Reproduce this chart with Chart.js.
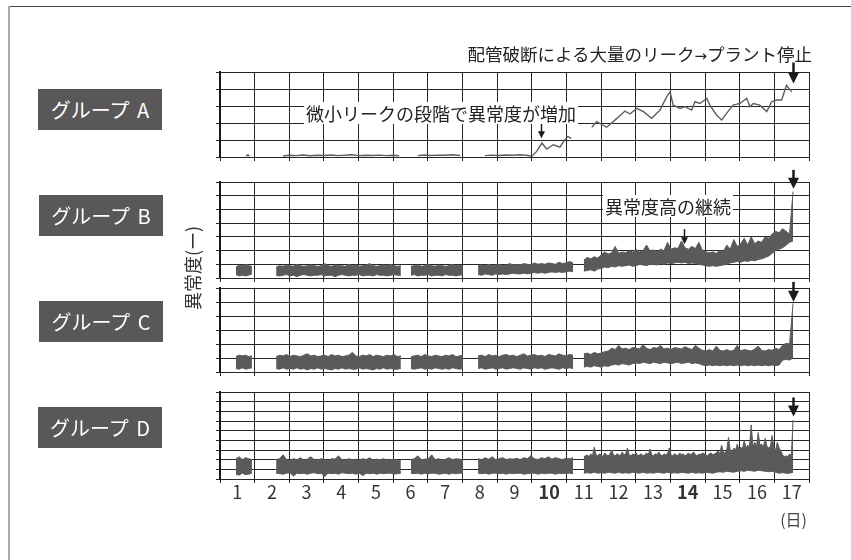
<!DOCTYPE html>
<html lang="ja">
<head>
<meta charset="utf-8">
<script src="https://cdn.jsdelivr.net/npm/chart.js@4.4.1/dist/chart.umd.min.js"></script>
<style>
  html, body { margin: 0; padding: 0; background: #fff; }
  #wrap { position: relative; width: 851px; height: 560px; overflow: hidden;
          font-family: "Noto Sans CJK JP", "Noto Sans", sans-serif; color: #222; }
  canvas { position: absolute; left: 0; }
  .frame-top { position: absolute; left: 8px; top: 6px; width: 843px; height: 1px; background: #444; }
  .frame-left { position: absolute; left: 8px; top: 6px; width: 2px; height: 554px; background: #aaa; }
  .group { position: absolute; width: 124px; height: 41px; background: #595757; color: #fff;
           font-size: 20px; line-height: 41px; text-align: center; white-space: nowrap; word-spacing: 3px; z-index: 3; }
  .note { position: absolute; font-size: 18px; line-height: 22px; white-space: nowrap; z-index: 3; color: #222; }
  .note.headline { font-size: 17.5px; }
  .note .arrow { font-family: "DejaVu Sans", sans-serif; font-size: 15px; }
  .boxed { background: #fff; padding: 0 2px; }
  .ytitle { position: absolute; left: 192px; top: 268px; font-size: 18px; line-height: 20px; color: #333;
            white-space: nowrap; transform: translate(-50%, -50%) rotate(-90deg); z-index: 3; }
  .unit { position: absolute; right: 44px; top: 508px; font-size: 16px; line-height: 22px; color: #444; z-index: 3; }
</style>
</head>
<body>
<div id="wrap">
  <div class="frame-top"></div>
  <div class="frame-left"></div>

  <canvas id="panelA" width="851" height="111" style="top:52px"></canvas>
  <canvas id="panelB" width="851" height="122" style="top:162px"></canvas>
  <canvas id="panelC" width="851" height="110" style="top:268px"></canvas>
  <canvas id="panelD" width="851" height="137" style="top:372px"></canvas>

  <div class="group" style="left:38px;top:89px">グループ A</div>
  <div class="group" style="left:39px;top:195px">グループ B</div>
  <div class="group" style="left:39px;top:301px">グループ C</div>
  <div class="group" style="left:38px;top:407px">グループ D</div>

  <div class="ytitle">異常度(ー)</div>

  <div class="note headline" style="right:39px;top:43px">配管破断による大量のリーク<span class="arrow">→</span>プラント停止</div>
  <div class="note boxed" style="left:304px;top:102px">微小リークの段階で異常度が増加</div>
  <div class="note boxed" style="left:603px;top:195px">異常度高の継続</div>

  <div class="unit">(日)</div>
</div>

<script>
// Day labels along the bottom axis (each day occupies one grid cell)
const dayLabels = ['1','2','3','4','5','6','7','8','9','10','11','12','13','14','15','16','17'];
const boldDays = ['10', '14'];

// Measurement periods (in days from the start of day 1)
const segStart = [0.46, 1.62, 5.51, 7.45, 10.50];
const segEnd   = [0.92, 5.22, 7.01, 10.19, 16.54];

// Group A: single anomaly trace (null = no measurement)
const groupADays = [
  0.75, 0.8, 0.85, 1.3,
  1.82, 2.0, 2.2, 2.4, 2.6, 2.8, 3.0, 3.2, 3.4, 3.6, 3.8, 4.0, 4.2, 4.4, 4.6, 4.8, 5.0, 5.17, 5.4,
  5.71, 5.9, 6.1, 6.3, 6.5, 6.7, 6.93, 7.3,
  7.65, 7.85, 8.05, 8.25, 8.45, 8.65, 8.85, 9.0, 9.14, 9.29, 9.43, 9.62, 9.81, 9.95, 10.04, 10.14, 10.45,
  10.73, 10.87, 11.16, 11.35, 11.69, 11.83, 12.03, 12.22, 12.46, 12.7, 12.89, 12.99, 13.08, 13.28, 13.42,
  13.61, 13.71, 13.85, 14.05, 14.14, 14.33, 14.48, 14.62, 14.81, 15.01, 15.2, 15.3, 15.39, 15.58, 15.78,
  15.92, 16.07, 16.21, 16.35, 16.5
];
const groupAValues = [
  0.05, 0.12, 0.05, null,
  0.06, 0.1, 0.08, 0.12, 0.07, 0.1, 0.09, 0.12, 0.08, 0.1, 0.13, 0.08, 0.1, 0.09, 0.11, 0.08, 0.1, 0.07, null,
  0.08, 0.12, 0.09, 0.11, 0.1, 0.13, 0.09, null,
  0.08, 0.11, 0.09, 0.12, 0.1, 0.13, 0.1, 0.05, 0.33, 0.82, 0.47, 0.72, 0.58, 1.01, 1.2, 1.09, null,
  1.75, 2.08, 1.75, 2.08, 2.7, 2.53, 2.86, 2.67, 2.28, 2.76, 3.54, 3.83, 3.05, 2.86, 2.96,
  2.76, 3.25, 3.15, 3.45, 3.05, 2.47, 2.18, 2.57, 3.05, 3.15, 3.45, 2.96, 3.15, 3.05, 2.67,
  3.25, 3.35, 3.35, 4.22, 3.83
];

// Groups B-D: upper / lower edge of the anomaly band, one list per measurement period
const groupBHigh = [
  [0.8, 0.95, 0.9, 1.0, 0.9, 0.85],
  [0.8, 0.9, 0.85, 0.95, 0.9, 0.85, 1.0, 0.9, 0.85, 0.9, 0.95, 0.9, 0.85, 0.9, 1.05, 0.9, 0.85, 0.95, 0.9,
   0.9, 0.85, 1.0, 0.9, 0.95, 0.85, 0.9, 0.95, 1.05, 0.9, 0.85, 0.9, 0.95, 0.9, 1.0, 0.9, 0.85, 0.9],
  [0.85, 0.9, 0.95, 0.85, 0.9, 1.0, 0.9, 0.85, 0.95, 0.9, 0.85, 0.9, 1.0, 0.9, 0.95, 0.85],
  [0.9, 0.95, 0.9, 1.0, 0.9, 0.95, 1.0, 0.9, 0.95, 1.05, 0.95, 1.0, 0.95, 1.05, 1.0, 0.95, 1.1, 1.0, 1.05,
   1.0, 1.1, 1.05, 1.0, 1.15, 1.05, 1.1, 1.2, 1.1],
  [1.3, 1.5, 1.4, 1.55, 1.45, 1.7, 1.9, 1.75, 1.85, 2.3, 1.8, 1.9, 1.85, 2.0, 1.9, 2.1, 1.9, 2.0, 2.4, 1.95,
   2.05, 1.9, 2.1, 2.0, 2.6, 2.1, 2.2, 2.15, 2.7, 2.2, 2.1, 2.3, 2.15, 2.6, 2.0, 1.9, 1.85, 1.9, 1.8, 2.0,
   1.9, 2.4, 2.1, 2.8, 2.3, 2.5, 2.9, 2.4, 3.0, 2.5, 2.7, 2.6, 3.0, 2.9, 3.2, 3.4, 3.3, 3.6, 3.4, 3.2, 6.3]
];
const groupBLow = [
  [0.25, 0.15, 0.2, 0.15, 0.2, 0.3],
  [0.2, 0.15, 0.2, 0.25, 0.15, 0.2, 0.1, 0.2, 0.25, 0.2, 0.15, 0.2, 0.2, 0.25, 0.15, 0.2, 0.2, 0.1, 0.2,
   0.25, 0.2, 0.15, 0.2, 0.2, 0.25, 0.15, 0.2, 0.2, 0.15, 0.25, 0.2, 0.2, 0.15, 0.2, 0.25, 0.2, 0.2],
  [0.2, 0.25, 0.15, 0.2, 0.2, 0.25, 0.15, 0.2, 0.2, 0.15, 0.25, 0.2, 0.2, 0.15, 0.2, 0.25],
  [0.25, 0.2, 0.3, 0.25, 0.2, 0.3, 0.25, 0.3, 0.25, 0.3, 0.35, 0.3, 0.3, 0.35, 0.3, 0.35, 0.4, 0.35, 0.4,
   0.35, 0.4, 0.45, 0.4, 0.45, 0.4, 0.45, 0.5, 0.45],
  [0.5, 0.55, 0.6, 0.5, 0.65, 0.7, 0.8, 0.75, 0.85, 0.8, 0.9, 0.85, 0.9, 0.95, 0.85, 0.9, 1.0, 0.95, 0.9, 1.0,
   1.0, 0.95, 1.05, 1.0, 1.1, 1.05, 1.1, 1.15, 1.1, 1.15, 1.05, 1.1, 1.05, 1.0, 0.95, 0.9, 0.85, 0.9, 0.85, 0.9,
   0.95, 1.0, 1.1, 1.15, 1.2, 1.15, 1.25, 1.2, 1.3, 1.25, 1.35, 1.4, 1.5, 1.6, 1.8, 2.0, 2.1, 2.2, 2.4, 2.6, 2.7]
];

const groupCHigh = [
  [1.1, 1.2, 1.15, 1.2, 1.1, 1.15],
  [1.1, 1.2, 1.15, 1.25, 1.1, 1.2, 1.15, 1.1, 1.2, 1.3, 1.15, 1.2, 1.1, 1.15, 1.2, 1.1, 1.25, 1.15, 1.2,
   1.1, 1.15, 1.2, 1.4, 1.15, 1.1, 1.2, 1.15, 1.25, 1.1, 1.2, 1.15, 1.1, 1.2, 1.15, 1.25, 1.1, 1.15],
  [1.1, 1.15, 1.2, 1.1, 1.25, 1.15, 1.1, 1.2, 1.15, 1.1, 1.2, 1.15, 1.25, 1.1, 1.15, 1.2],
  [1.15, 1.2, 1.1, 1.25, 1.15, 1.2, 1.1, 1.2, 1.25, 1.15, 1.2, 1.1, 1.2, 1.3, 1.15, 1.2, 1.25, 1.15, 1.2,
   1.1, 1.25, 1.2, 1.15, 1.3, 1.2, 1.15, 1.25, 1.2],
  [1.3, 1.35, 1.25, 1.4, 1.3, 1.35, 1.45, 1.5,
   1.7, 1.6, 1.9, 1.65, 1.7, 1.6, 1.75,
   1.7, 1.65, 1.95, 1.7, 1.6, 1.75, 1.7, 1.9, 1.65, 1.7, 1.6, 1.75, 1.7, 1.65, 1.8, 1.7, 1.6, 1.9, 1.7,
   1.55, 1.5, 1.6, 1.5, 1.85, 1.55, 1.5, 1.6, 1.5, 1.55, 1.9, 1.5, 1.6, 1.55, 1.5, 1.65, 1.85, 1.55, 1.5,
   1.6, 1.55, 1.7, 1.6,
   1.9, 2.05, 2.0, 4.9]
];
const groupCLow = [
  [0.25, 0.2, 0.3, 0.2, 0.25, 0.3],
  [0.25, 0.2, 0.3, 0.2, 0.25, 0.2, 0.3, 0.2, 0.25, 0.15, 0.25, 0.2, 0.3, 0.2, 0.25, 0.2, 0.15, 0.25, 0.2,
   0.3, 0.2, 0.25, 0.2, 0.2, 0.3, 0.2, 0.25, 0.2, 0.15, 0.25, 0.2, 0.3, 0.2, 0.25, 0.2, 0.2, 0.25],
  [0.25, 0.2, 0.25, 0.3, 0.2, 0.25, 0.2, 0.3, 0.25, 0.2, 0.25, 0.2, 0.3, 0.25, 0.2, 0.25],
  [0.25, 0.3, 0.2, 0.25, 0.3, 0.2, 0.25, 0.3, 0.2, 0.25, 0.3, 0.25, 0.2, 0.3, 0.25, 0.2, 0.3, 0.25, 0.3,
   0.2, 0.25, 0.3, 0.25, 0.2, 0.3, 0.25, 0.3, 0.25],
  [0.35, 0.4, 0.35, 0.45, 0.4, 0.35, 0.45, 0.4,
   0.5, 0.55, 0.5, 0.6, 0.55, 0.5, 0.6,
   0.65, 0.6, 0.7, 0.65, 0.6, 0.7, 0.65, 0.6, 0.7, 0.65, 0.6, 0.65, 0.7, 0.6, 0.65, 0.7, 0.6, 0.65, 0.6,
   0.5, 0.45, 0.5, 0.45, 0.5, 0.45, 0.5, 0.45, 0.5, 0.45, 0.5, 0.45, 0.5, 0.45, 0.5, 0.45, 0.5, 0.45, 0.5,
   0.45, 0.5, 0.45, 0.5,
   0.85, 0.9, 0.85, 1.0]
];

const groupDHigh = [
  [2.1, 2.3, 2.0, 2.2, 2.1, 2.0],
  [2.0, 2.1, 2.5, 2.0, 1.9, 2.1, 2.0, 2.2, 1.95, 2.05, 2.3, 2.0, 1.95, 2.1, 2.0, 1.9, 2.1, 2.05, 2.4,
   2.0, 1.95, 2.1, 2.0, 2.05, 1.9, 2.1, 2.0, 2.2, 1.95, 2.05, 2.0, 2.1, 1.95, 2.0, 2.05, 1.9, 2.0],
  [2.0, 2.1, 2.4, 2.0, 2.05, 2.1, 2.5, 2.0, 2.1, 1.95, 2.05, 2.2, 2.0, 2.1, 2.05, 2.0],
  [2.1, 2.0, 2.2, 2.05, 2.3, 2.0, 2.1, 2.2, 2.0, 2.1, 2.05, 2.15, 2.0, 2.2, 2.1, 2.4, 2.1, 2.0, 2.2,
   2.1, 2.3, 2.05, 2.2, 2.1, 2.0, 2.15, 2.1, 2.2],
  [2.3, 2.4, 2.5, 2.3, 2.6, 2.4, 3.3, 2.5, 2.4, 2.6, 2.5, 2.3, 2.7, 2.5, 2.4, 2.6, 3.0, 2.5, 2.4, 2.6,
   2.5, 2.4, 2.8, 2.5, 2.6, 3.2, 2.5, 2.4, 2.6, 2.5, 2.7, 2.4, 2.5, 2.6, 2.4, 2.5, 2.7, 2.5, 3.1, 2.5,
   2.4, 2.6, 2.5, 2.8, 2.5, 2.4, 2.6, 2.5, 2.6, 3.2, 2.5, 2.4, 2.6, 2.5, 2.4, 2.7, 2.5, 2.6, 2.4, 2.5,
   2.7, 2.5, 2.6, 2.8, 2.5, 2.4, 2.6, 2.5, 2.7, 2.6, 2.5, 2.4, 2.6, 2.7, 2.5, 2.6,
   2.7, 2.9, 2.6, 3.5, 2.8, 2.7, 3.0, 4.3, 2.9, 2.8, 3.2, 3.0, 3.6, 3.0,
   3.3, 3.1, 4.0, 3.2, 3.5, 3.3, 5.6, 3.4, 3.8, 3.3, 4.8, 3.5, 3.6, 3.3, 4.2, 3.4,
   3.2, 3.4, 4.5, 3.3, 3.0, 3.8, 3.2, 2.9,
   2.5, 2.3, 2.4, 2.3, 2.6, 2.4,
   6.1]
];
const groupDLow = [
  [0.5, 0.4, 0.6, 0.45, 0.5, 0.6],
  [0.6, 0.55, 0.5, 0.6, 0.65, 0.3, 0.6, 0.55, 0.6, 0.5, 0.6, 0.65, 0.55, 0.6, 0.25, 0.6, 0.55, 0.6, 0.5,
   0.65, 0.6, 0.55, 0.6, 0.5, 0.6, 0.35, 0.6, 0.55, 0.6, 0.5, 0.6, 0.55, 0.6, 0.6, 0.5, 0.55, 0.6],
  [0.6, 0.55, 0.6, 0.5, 0.6, 0.55, 0.6, 0.6, 0.5, 0.55, 0.6, 0.5, 0.6, 0.55, 0.6, 0.6],
  [0.6, 0.55, 0.6, 0.5, 0.6, 0.6, 0.55, 0.6, 0.5, 0.6, 0.55, 0.6, 0.6, 0.5, 0.55, 0.6, 0.6, 0.5, 0.6,
   0.55, 0.6, 0.6, 0.5, 0.6, 0.55, 0.6, 0.6, 0.55],
  [0.6, 0.65, 0.6, 0.7, 0.6, 0.65, 0.6, 0.7, 0.65, 0.6, 0.7, 0.6, 0.65, 0.6, 0.7, 0.65, 0.6, 0.7, 0.6,
   0.65, 0.6, 0.7, 0.65, 0.6, 0.7, 0.6, 0.65, 0.6, 0.7, 0.65, 0.6, 0.7, 0.6, 0.65, 0.6, 0.7, 0.65, 0.6,
   0.7, 0.75, 0.7, 0.8, 0.75, 0.7, 0.8, 0.85, 0.8, 0.9, 0.85, 0.8, 0.9, 0.85, 0.8, 0.75, 0.8, 0.7, 0.6,
   0.65, 0.6, 0.6, 0.7]
];

// Number of grid divisions on each panel's vertical axis
const groupAMax = 5, groupBMax = 7, groupCMax = 6, groupDMax = 9;

const FONT = '"Noto Sans CJK JP", "Noto Sans", sans-serif';
const GRID = '#262626';
const INK = '#5a5a5a';

// Arrows marking notable moments (day position, value at the arrow tip)
const arrowPlugin = {
  id: 'arrows',
  afterDraw(chart, args, opts) {
    const { ctx } = chart;
    const xs = chart.scales.x, ys = chart.scales.y;
    (opts.items || []).forEach(a => {
      const px = Math.round(xs.getPixelForValue(a.day)) + 0.5;
      const tip = ys.getPixelForValue(a.tip);
      ctx.save();
      ctx.strokeStyle = '#1a1a1a';
      ctx.fillStyle = '#1a1a1a';
      ctx.lineWidth = a.shaft;
      ctx.beginPath();
      ctx.moveTo(px, tip - a.len);
      ctx.lineTo(px, tip - a.head + 1);
      ctx.stroke();
      ctx.beginPath();
      ctx.moveTo(px - a.head / 2, tip - a.head);
      ctx.lineTo(px + a.head / 2, tip - a.head);
      ctx.lineTo(px, tip);
      ctx.closePath();
      ctx.fill();
      ctx.restore();
    });
  }
};

function range(n) { return Array.from({ length: n + 1 }, (_, i) => i); }

function panelConfig(datasets, yMax, arrows, withLabels) {
  const scales = {
    x: {
      type: 'linear', min: 0, max: 17, position: 'bottom', weight: 0,
      afterBuildTicks: s => { s.ticks = range(17).map(v => ({ value: v })); },
      ticks: { display: false },
      grid: { color: GRID, lineWidth: 1, tickLength: 4, drawTicks: true },
      border: { display: true, color: GRID, width: 1 },
      afterFit: s => { s.height = withLabels ? 0 : 6; }
    },
    y: {
      type: 'linear', min: 0, max: yMax,
      afterBuildTicks: s => { s.ticks = range(yMax).map(v => ({ value: v })); },
      ticks: { display: false },
      grid: { color: GRID, lineWidth: 1, tickLength: 4, drawTicks: true },
      border: { display: true, color: '#1a1a1a', width: 2 },
      afterFit: s => { s.width = 220; }
    }
  };
  if (withLabels) {
    scales.xl = {
      type: 'linear', min: 0, max: 17, position: 'bottom', weight: 1,
      afterBuildTicks: s => { s.ticks = dayLabels.map((_, i) => ({ value: i + 0.5 })); },
      ticks: {
        autoSkip: false, maxRotation: 0, padding: 2, color: '#333',
        font: ctx => ({ family: FONT, size: 18,
                        weight: boldDays.includes(dayLabels[ctx.index]) ? 'bold' : 'normal' }),
        callback: (v, i) => dayLabels[i]
      },
      grid: { display: false, drawTicks: false },
      border: { display: false },
      afterFit: s => { s.height = 30; }
    };
  }
  return {
    type: 'line',
    data: { datasets },
    options: {
      responsive: false, animation: false, devicePixelRatio: 1,
      layout: { padding: { top: 20, right: 42, left: 0, bottom: 0 } },
      elements: { point: { radius: 0 }, line: { tension: 0 } },
      plugins: { legend: { display: false }, tooltip: { enabled: false }, arrows: { items: arrows } },
      scales
    },
    plugins: [arrowPlugin]
  };
}

// Band panels: the lower edge, then the upper edge filled down to it
function bandDatasets(high, low) {
  const sets = [];
  segStart.forEach((start, k) => {
    const toPoints = arr => arr.map((v, i) => ({ x: start + (segEnd[k] - start) * i / (arr.length - 1), y: v }));
    sets.push({ data: toPoints(low[k]), borderColor: INK, borderWidth: 1, fill: false });
    sets.push({ data: toPoints(high[k]), borderColor: INK, borderWidth: 1, backgroundColor: INK, fill: '-1' });
  });
  return sets;
}

const groupAData = groupADays.map((d, i) => ({ x: d, y: groupAValues[i] }));

new Chart(document.getElementById('panelA'), panelConfig(
  [{ data: groupAData, borderColor: '#5e5e5e', borderWidth: 1.4, fill: false, spanGaps: false }],
  groupAMax,
  [{ day: 16.54, tip: 4.32, len: 21, head: 11, shaft: 2.5 },
   { day: 9.26, tip: 1.1, len: 15, head: 7, shaft: 1.5 }],
  false));

new Chart(document.getElementById('panelB'), panelConfig(
  bandDatasets(groupBHigh, groupBLow), groupBMax,
  [{ day: 16.54, tip: 6.5, len: 19, head: 11, shaft: 2.5 },
   { day: 13.39, tip: 2.47, len: 15, head: 7, shaft: 1.5 }],
  false));

new Chart(document.getElementById('panelC'), panelConfig(
  bandDatasets(groupCHigh, groupCLow), groupCMax,
  [{ day: 16.54, tip: 5.01, len: 20, head: 11, shaft: 2.5 }],
  false));

new Chart(document.getElementById('panelD'), panelConfig(
  bandDatasets(groupDHigh, groupDLow), groupDMax,
  [{ day: 16.54, tip: 6.47, len: 19, head: 11, shaft: 2.5 }],
  true));
</script>
</body>
</html>
